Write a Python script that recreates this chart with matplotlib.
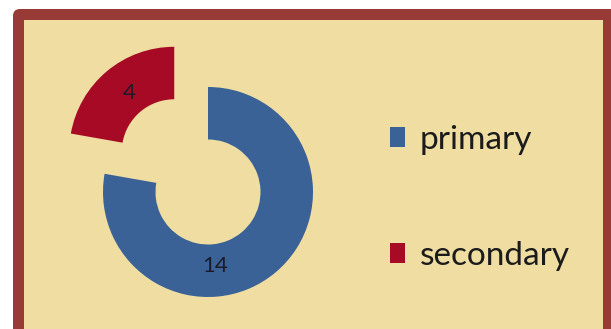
import matplotlib
matplotlib.use("Agg")
import matplotlib.pyplot as plt
from matplotlib.patches import FancyBboxPatch, Rectangle
from matplotlib.transforms import IdentityTransform

categories = ["primary", "secondary"]
values = [14, 4]
colors = ["#3A6297", "#A60A24"]
label_text = ["14", "4"]

plt.rcParams['font.family'] = ['Lato', 'DejaVu Sans']

W, H = 611, 329
fig = plt.figure(figsize=(W / 100, H / 100), dpi=100)
fig.patch.set_facecolor("white")

# frame
frame = FancyBboxPatch((13, -30), 640, H - 9 + 30, boxstyle="round,pad=0,rounding_size=7",
                       transform=IdentityTransform(), facecolor="#983A36", edgecolor="none",
                       zorder=-2)
fig.patches.append(frame)
inner = Rectangle((24, -10), 603 - 24, H - 20 + 10, transform=IdentityTransform(),
                  facecolor="#EFDDA1", edgecolor="none", zorder=-1)
fig.patches.append(inner)

ax = fig.add_axes([0, 0, 1, 1])
ax.set_zorder(1)
ax.patch.set_alpha(0)
cx, cy, R = 208, 192, 105
wedges, _ = ax.pie(values, colors=colors, startangle=90, counterclock=False,
                   explode=[0, 0.5], radius=1,
                   wedgeprops=dict(width=0.5, edgecolor="none"))
ax.set_xlim(-cx / R, (W - cx) / R)
ax.set_ylim(-(H - cy) / R, cy / R)
ax.set_aspect("auto")
ax.axis("off")

label_pos = [(0.071, -0.705), (-0.748, 0.943)]
for (x, y), t in zip(label_pos, label_text):
    ax.text(x, y, t, ha="center", va="center", fontsize=16, color="#1B1B2A")

leg = ax.legend(wedges, categories, loc="upper left",
                bbox_to_anchor=(390 / W, 1 - 125 / H), bbox_transform=fig.transFigure,
                frameon=False, fontsize=24, handlelength=0.45, handleheight=0.57,
                handletextpad=0.45, labelspacing=2.57, borderpad=0, borderaxespad=0)
for t in leg.get_texts():
    t.set_color("#1B1B1B")

fig.savefig("out.png", dpi=100)
